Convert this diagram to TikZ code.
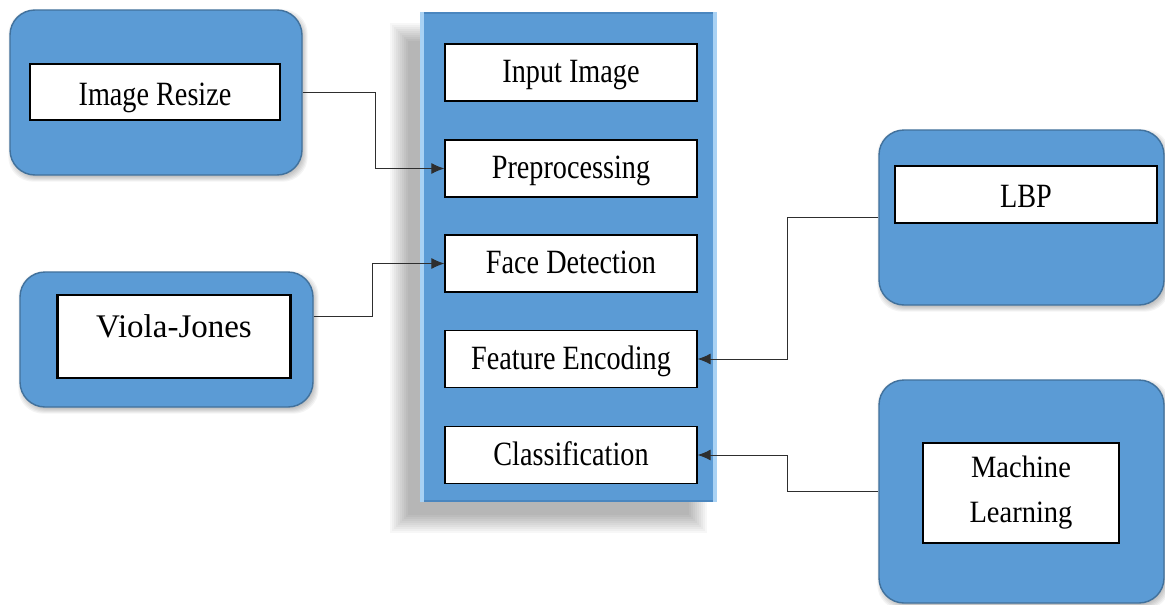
\documentclass[tikz,border=0pt]{standalone}
\usepackage{fontspec}
\setmainfont{Liberation Serif}
\newfontfamily\condfont[FakeStretch=0.83]{Liberation Serif}
\newfontfamily\semicond[FakeStretch=0.92]{Liberation Serif}
\usetikzlibrary{arrows.meta,calc}
\pgfdeclarelayer{bg}
\pgfdeclarelayer{shadow}
\pgfsetlayers{bg,shadow,main}
\definecolor{boxblue}{HTML}{5B9BD5}
\definecolor{edgeblue}{HTML}{41719C}
\definecolor{bevellight}{HTML}{A9D2F4}
\definecolor{beveldark}{HTML}{4A86BF}
\definecolor{linegray}{HTML}{2E2E2E}
\tikzset{
  outerbox/.style={draw=edgeblue, line width=1.4pt, fill=boxblue, rounded corners=25pt, inner sep=0pt},
  whitebox/.style={draw=black, line width=1.3pt, fill=white, inner sep=0pt,
    font=\condfont\fontsize{34}{46}\selectfont, align=center},
  stagebox/.style={whitebox, minimum width=252pt, minimum height=57pt, text height=24pt, text depth=4pt},
  conn/.style={draw=linegray, line width=0.9pt},
  arr/.style={conn, -{Latex[length=13pt,width=11pt]}},
  shadowlayer/.style={fill=black, opacity=0.045}
}
\newcommand{\softshadow}[1]{%
  \foreach \e in {3,2,1,0,-1,-2}{%
    \fill[shadowlayer, rounded corners=25pt]
      ($(#1.north west)+(2-\e,3-\e)$) rectangle ($(#1.south east)+(2+\e,3+\e)$);}}
\begin{document}
\begin{tikzpicture}[x=1pt,y=-1pt]
\useasboundingbox (0,0) rectangle (1165,605);
\begin{pgfonlayer}{bg}
\fill[white] (0,0) rectangle (1165,605);
\end{pgfonlayer}

% central panel
\node[fill=boxblue, inner sep=0pt, minimum width=297pt, minimum height=490pt]
  (panel) at (568.5,257) {};
\fill[beveldark] (panel.north west) rectangle ([yshift=-2pt]panel.north east);
\fill[beveldark] ([yshift=2pt]panel.south west) rectangle (panel.south east);
\fill[bevellight] (panel.north west) rectangle ([xshift=4pt]panel.south west);
\fill[bevellight] ([xshift=-4pt]panel.north east) rectangle (panel.south east);
\begin{pgfonlayer}{shadow}
\foreach \e in {10,8,...,-8}{
  \fill[black, opacity=0.03]
    ($(panel.north west)+(-20-\e,21-\e)$) rectangle ($(panel.south east)+(-20+\e,21+\e)$);}
\end{pgfonlayer}

\node[stagebox] (inp)  at (571,72.5)  {Input Image};
\node[stagebox] (pre)  at (571,168.5) {Preprocessing};
\node[stagebox] (face) at (571,263.5) {Face Detection};
\node[stagebox] (feat) at (571,359)   {Feature Encoding};
\node[stagebox] (cls)  at (571,455)   {Classification};

% Image Resize
\node[outerbox, minimum width=292pt, minimum height=165pt] (rz) at (156,92.5) {};
\node[whitebox, minimum width=250pt, minimum height=56pt, text height=26pt, text depth=0pt]
  (rzi) at (155,92) {Image Resize};

% Viola-Jones
\node[outerbox, minimum width=293pt, minimum height=135pt] (vj) at (166.5,339.5) {};
\node[whitebox, line width=2.4pt, minimum width=233pt, minimum height=83pt,
  font=\fontsize{33}{38}\selectfont, text height=22pt, text depth=20pt] (vji) at (174,336.5) {Viola-Jones};

% LBP
\node[outerbox, minimum width=285pt, minimum height=175pt] (lbp) at (1021.5,217.5) {};
\node[whitebox, minimum width=262pt, minimum height=57pt,
  text height=26pt, text depth=0pt] (lbpi) at (1026,194.5) {LBP};

% Machine Learning
\node[outerbox, minimum width=285pt, minimum height=223pt] (ml) at (1021.5,491.5) {};
\node[whitebox, minimum width=196pt, minimum height=100pt, font=\semicond\fontsize{31}{45}\selectfont]
  (mli) at (1021,493) {Machine\\Learning};

\begin{pgfonlayer}{shadow}
\softshadow{rz}
\softshadow{vj}
\softshadow{lbp}
\softshadow{ml}
\end{pgfonlayer}

% connectors
\draw[arr] (rz.east) -- ++(73,0) |- (pre.west);
\draw[arr] ([yshift=23.5pt]vj.east) -- ++(59,0) |- (face.west);
\draw[arr] (lbp.west) -- ++(-91,0) |- (feat.east);
\draw[arr] (ml.west) -- ++(-91,0) |- (cls.east);
\end{tikzpicture}
\end{document}
